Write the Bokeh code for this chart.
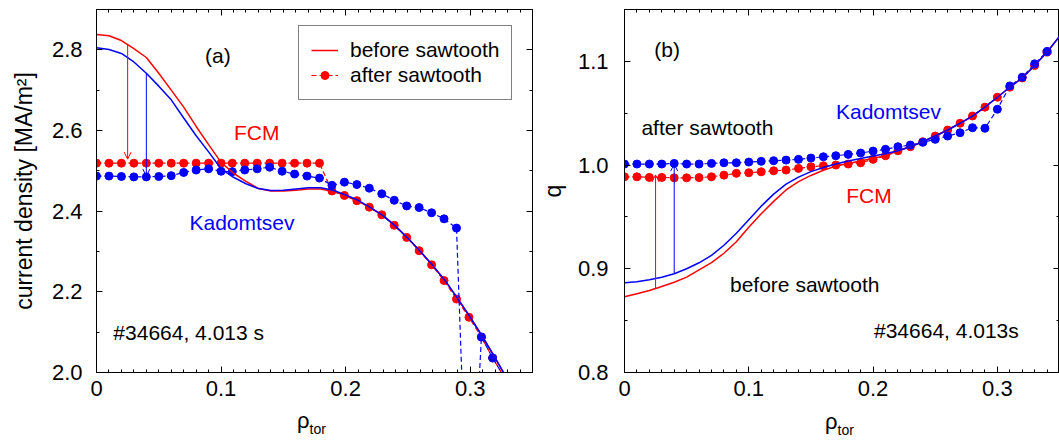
from bokeh.plotting import figure
from bokeh.layouts import row, column
from bokeh.models import (Range1d, LinearAxis, Label, Arrow, OpenHead, Legend,
                          LegendItem, SingleIntervalTicker, PrintfTickFormatter, Div)
from bokeh.embed import file_html
from bokeh.resources import INLINE

FONT = "Liberation Sans"
RED = "#ff0000"
BLUE = "#0000ff"

# ---------------- panel (a): current density ----------------
rho_a_line = [0.00, 0.01, 0.02, 0.03, 0.04, 0.05, 0.06, 0.07, 0.08, 0.09,
              0.10, 0.11, 0.12, 0.13, 0.14, 0.15, 0.16, 0.17, 0.18, 0.19,
              0.20, 0.21, 0.22, 0.23, 0.24, 0.25, 0.26, 0.27, 0.28, 0.29,
              0.30, 0.31, 0.32, 0.33]
j_before_fcm = [2.838, 2.835, 2.823, 2.803, 2.781, 2.742, 2.700, 2.658, 2.610, 2.565,
                2.521, 2.494, 2.474, 2.456, 2.450, 2.450, 2.452, 2.455, 2.455, 2.449,
                2.438, 2.425, 2.408, 2.389, 2.363, 2.333, 2.300, 2.265, 2.227, 2.183,
                2.137, 2.088, 2.036, 1.982]
j_before_kad = [2.805, 2.801, 2.791, 2.770, 2.742, 2.710, 2.676, 2.631, 2.587, 2.547,
                2.505, 2.484, 2.468, 2.456, 2.451, 2.452, 2.455, 2.458, 2.458, 2.452,
                2.440, 2.427, 2.409, 2.389, 2.363, 2.333, 2.300, 2.265, 2.227, 2.183,
                2.137, 2.088, 2.036, 1.982]
rho_a_dots = [0.000, 0.010, 0.020, 0.030, 0.040, 0.050, 0.060, 0.070, 0.080, 0.090,
              0.100, 0.109, 0.119, 0.129, 0.139, 0.149, 0.159, 0.169, 0.179, 0.189,
              0.199, 0.209, 0.219, 0.229, 0.239, 0.249, 0.259, 0.269, 0.279, 0.289,
              0.299, 0.309, 0.318, 0.328]
j_after_fcm = [2.519, 2.519, 2.519, 2.519, 2.519, 2.519, 2.519, 2.519, 2.519, 2.519,
               2.519, 2.519, 2.519, 2.519, 2.519, 2.519, 2.519, 2.519, 2.519, 2.450,
               2.439, 2.426, 2.410, 2.391, 2.365, 2.335, 2.302, 2.267, 2.228, 2.182,
               2.137, 2.088, 2.036, 1.985]
j_after_kad = [2.487, 2.487, 2.486, 2.485, 2.485, 2.486, 2.488, 2.496, 2.502, 2.505,
               2.499, 2.498, 2.502, 2.505, 2.509, 2.499, 2.492, 2.487, 2.482, 2.464,
               2.472, 2.466, 2.457, 2.443, 2.427, 2.413, 2.409, 2.396, 2.381, 2.358,
               1.500, 2.088, 2.036, 1.985]
# arrows (a): x, start, end
arrow_a_x = [0.025, 0.040]
arrow_a_from = [2.813, 2.742]
arrow_a_to = [2.529, 2.487]

# ---------------- panel (b): safety factor q ----------------
rho_b_line = [0.00, 0.01, 0.02, 0.03, 0.04, 0.05, 0.06, 0.07, 0.08, 0.09,
              0.10, 0.11, 0.12, 0.13, 0.14, 0.15, 0.16, 0.17, 0.18, 0.19,
              0.20, 0.21, 0.22, 0.23, 0.24, 0.25, 0.26, 0.27, 0.28, 0.29,
              0.30, 0.31, 0.32, 0.33, 0.34, 0.35, 0.36]
q_before_fcm = [0.873, 0.876, 0.879, 0.883, 0.887, 0.892, 0.899, 0.906, 0.915, 0.926,
                0.940, 0.953, 0.965, 0.976, 0.984, 0.990, 0.995, 0.999, 1.0015, 1.004,
                1.0065, 1.009, 1.0138, 1.0177, 1.0225, 1.028, 1.0338, 1.0403, 1.0473, 1.0558,
                1.0654, 1.075, 1.084, 1.096, 1.109, 1.124, 1.140]
q_before_kad = [0.8865, 0.8874, 0.8894, 0.8918, 0.8952, 0.900, 0.9058, 0.913, 0.9227, 0.9343,
                0.9473, 0.9604, 0.972, 0.9816, 0.9884, 0.9937, 0.9976, 1.001, 1.0039, 1.0063,
                1.0087, 1.011, 1.0138, 1.0177, 1.0225, 1.028, 1.0338, 1.0403, 1.0473, 1.0558,
                1.0654, 1.075, 1.084, 1.096, 1.109, 1.124, 1.140]
rho_b_dots = [0.00, 0.01, 0.02, 0.03, 0.04, 0.05, 0.06, 0.07, 0.08, 0.09,
              0.10, 0.11, 0.12, 0.13, 0.14, 0.15, 0.16, 0.17, 0.18, 0.19,
              0.20, 0.21, 0.22, 0.23, 0.24, 0.25, 0.26, 0.27, 0.28, 0.29,
              0.30, 0.31, 0.32, 0.33, 0.34]
q_after_fcm = [0.9887, 0.9887, 0.9881, 0.9881, 0.9877, 0.9877, 0.9879, 0.9887, 0.9903, 0.9920,
               0.9926, 0.9935, 0.9945, 0.9952, 0.9968, 0.9984, 0.9993, 1.0000, 1.0010, 1.0022,
               1.0055, 1.0090, 1.0138, 1.0177, 1.0225, 1.0280, 1.0338, 1.0403, 1.0473, 1.0558,
               1.0654, 1.0751, 1.0840, 1.0960, 1.1090]
q_after_kad = [1.0010, 1.0010, 1.0010, 1.0010, 1.0016, 1.0010, 1.0010, 1.0016, 1.0022, 1.0022,
               1.0029, 1.0036, 1.0042, 1.0048, 1.0055, 1.0068, 1.0080, 1.0090, 1.0103, 1.0116,
               1.0135, 1.0152, 1.0177, 1.0193, 1.0219, 1.0248, 1.0280, 1.0312, 1.0360, 1.0355,
               1.0538, 1.0763, 1.0847, 1.0976, 1.1095]
arrow_b_x = [0.025, 0.040]
arrow_b_from = [0.881, 0.8952]
arrow_b_to = [0.9905, 1.001]


def make_fig(y0, y1, y_int, ylabel, top, fh, bottom, left, fw, right, lab_standoff, ylab_standoff):
    p = figure(frame_width=fw, frame_height=fh,
               x_range=Range1d(0, 0.35), y_range=Range1d(y0, y1),
               output_backend="svg", toolbar_location=None,
               x_axis_type=None, y_axis_type=None,
               min_border_left=left, min_border_right=right,
               min_border_top=top, min_border_bottom=bottom)
    p.outline_line_color = "black"
    p.outline_line_width = 1
    p.background_fill_color = "white"
    p.border_fill_color = "white"
    for side in ["below", "above", "left", "right"]:
        if side in ("below", "above"):
            tk = SingleIntervalTicker(interval=0.1, num_minor_ticks=10)
        else:
            tk = SingleIntervalTicker(interval=y_int, num_minor_ticks=2)
        ax = LinearAxis(ticker=tk)
        ax.axis_line_color = "black"
        ax.major_tick_in = 6
        ax.major_tick_out = 0
        ax.minor_tick_in = 3
        ax.minor_tick_out = 0
        ax.major_tick_line_color = "black"
        ax.minor_tick_line_color = "black"
        if side in ("below", "left"):
            ax.major_label_text_font = FONT
            ax.major_label_text_font_size = "22px"
            ax.major_label_text_color = "black"
            if side == "below":
                ax.major_label_standoff = 8
                ax.major_label_overrides = {0: "0"}
            else:
                ax.formatter = PrintfTickFormatter(format="%.1f")
                ax.major_label_standoff = lab_standoff
                ax.axis_label = ylabel
                ax.axis_label_text_font = FONT
                ax.axis_label_text_font_size = "23px"
                ax.axis_label_text_font_style = "normal"
                ax.axis_label_text_color = "black"
                ax.axis_label_standoff = ylab_standoff
        else:
            # mirrored ticks only, labels not painted
            ax.major_label_text_color = None
            ax.major_label_text_font_size = "1px"
            ax.major_label_standoff = 0
        p.add_layout(ax, side)
    return p


def add_text(p, x, y, text, color="black", size="21px"):
    p.add_layout(Label(x=x, y=y, text=text, text_color=color, text_font=FONT,
                       text_font_size=size, text_align="center", text_baseline="middle"))


def rho_div(width, height, left, top):
    html = ('<div style="position:relative; left:%dpx; top:%dpx; white-space:nowrap; '
            'font-family:\'Liberation Sans\'; font-size:22px; line-height:26px; color:black;">'
            'ρ<span style="font-size:14px; position:relative; top:6px;">tor</span></div>'
            % (left, top))
    return Div(text=html, width=width, height=height, margin=0)


# ---------------- figure (a) ----------------
pa = make_fig(2.0, 2.9, 0.2, "current density [MA/m²]", 7, 363, 38, 96, 436, 4, 14, 12)

ra_fcm_dash = pa.line(rho_a_dots, j_after_fcm, line_color=RED, line_width=1.2, line_dash="5 3")
ra_fcm_dot = pa.scatter(rho_a_dots, j_after_fcm, size=8, fill_color=RED, line_color=RED)
pa.line(rho_a_dots, j_after_kad, line_color=BLUE, line_width=1.2, line_dash="5 3")
pa.scatter(rho_a_dots, j_after_kad, size=8, fill_color=BLUE, line_color=BLUE)
ra_fcm_solid = pa.line(rho_a_line, j_before_fcm, line_color=RED, line_width=1.5)
pa.line(rho_a_line, j_before_kad, line_color=BLUE, line_width=1.5)

for xa, ya0, ya1, c in zip(arrow_a_x, arrow_a_from, arrow_a_to, [RED, BLUE]):
    pa.add_layout(Arrow(end=OpenHead(size=7, line_color=c, line_width=1),
                        x_start=xa, y_start=ya0, x_end=xa, y_end=ya1,
                        line_color=c, line_width=1))

leg = Legend(items=[LegendItem(label="before sawtooth", renderers=[ra_fcm_solid]),
                    LegendItem(label="after sawtooth", renderers=[ra_fcm_dash, ra_fcm_dot])],
             location=(202, 272), orientation="vertical",
             label_text_font=FONT, label_text_font_size="21px", label_text_color="black",
             glyph_width=27, glyph_height=20, label_standoff=12, padding=12, spacing=1,
             margin=0, border_line_color="black", border_line_width=1,
             background_fill_color="white", background_fill_alpha=1)
pa.add_layout(leg, "center")

add_text(pa, 0.0974, 2.786, "(a)")
add_text(pa, 0.1286, 2.596, "FCM", color=RED)
add_text(pa, 0.1168, 2.373, "Kadomtsev", color=BLUE)
add_text(pa, 0.0740, 2.099, "#34664, 4.013 s")

# ---------------- figure (b) ----------------
pb = make_fig(0.8, 1.15, 0.1, "q", 9, 363, 36, 88, 435, 0, 16, 9)

pb.line(rho_b_dots, q_after_fcm, line_color=RED, line_width=1.2, line_dash="5 3")
pb.scatter(rho_b_dots, q_after_fcm, size=8, fill_color=RED, line_color=RED)
pb.line(rho_b_dots, q_after_kad, line_color=BLUE, line_width=1.2, line_dash="5 3")
pb.scatter(rho_b_dots, q_after_kad, size=8, fill_color=BLUE, line_color=BLUE)
pb.line(rho_b_line, q_before_fcm, line_color=RED, line_width=1.5)
pb.line(rho_b_line, q_before_kad, line_color=BLUE, line_width=1.5)

for xb, yb0, yb1, c in zip(arrow_b_x, arrow_b_from, arrow_b_to, [RED, BLUE]):
    pb.add_layout(Arrow(end=OpenHead(size=7, line_color=c, line_width=1),
                        x_start=xb, y_start=yb0, x_end=xb, y_end=yb1,
                        line_color=c, line_width=1))

add_text(pb, 0.0343, 1.1111, "(b)")
add_text(pb, 0.0667, 1.0362, "after sawtooth")
add_text(pb, 0.2124, 1.0512, "Kadomtsev", color=BLUE)
add_text(pb, 0.1967, 0.9710, "FCM", color=RED)
add_text(pb, 0.1450, 0.8845, "before sawtooth")
add_text(pb, 0.2590, 0.8406, "#34664, 4.013s")

# x-axis titles (rho with subscript) below the two panels
div_a = rho_div(536, 36, 297, 0)
div_b = rho_div(523, 36, 825 - 536, 1)

layout = column(row(pa, pb), row(div_a, div_b))
open("out.html", "w").write(file_html(layout, INLINE))
